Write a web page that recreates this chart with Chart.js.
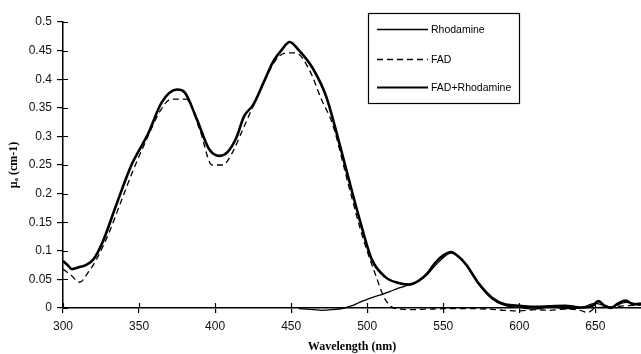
<!DOCTYPE html>
<html>
<head>
<meta charset="utf-8">
<script src="https://cdn.jsdelivr.net/npm/chart.js@4.4.1/dist/chart.umd.min.js"></script>
<style>
  html, body { margin: 0; padding: 0; background: #fff; }
  #wrap { position: relative; width: 641px; height: 354px; }
</style>
</head>
<body>
<div id="wrap"><canvas id="spectra"></canvas></div>
<script>
// absorption spectra: wavelength (nm) against mu_a (cm-1)
const xTicks = [300, 350, 400, 450, 500, 550, 600, 650];
const yTicks = [0, 0.05, 0.1, 0.15, 0.2, 0.25, 0.3, 0.35, 0.4, 0.45, 0.5];

// FAD + Rhodamine mixture
const mixWl = [300, 303, 306, 310, 315, 320, 326, 335, 345, 356, 365, 375, 380, 388, 396, 403, 408, 414, 419, 425,
  432, 438, 444, 449, 455, 464, 473, 480, 488, 495, 503, 512, 520, 527, 534, 540, 545, 550, 555, 560,
  565, 573, 582, 591, 600, 610, 620, 630, 640, 648, 652, 656, 660, 665, 670, 675, 680];
const mixVals = [0.082, 0.075, 0.068, 0.071, 0.075, 0.085, 0.115, 0.18, 0.25, 0.305, 0.36, 0.382, 0.377, 0.33, 0.278, 0.266, 0.272, 0.298, 0.335, 0.355,
  0.395, 0.43, 0.452, 0.465, 0.451, 0.42, 0.37, 0.305, 0.224, 0.155, 0.085, 0.054, 0.044, 0.041, 0.048, 0.062, 0.08, 0.092, 0.098, 0.09,
  0.076, 0.044, 0.018, 0.006, 0.004, 0.002, 0.003, 0.004, 0.001, 0.004, 0.012, 0.004, 0.0, 0.008, 0.013, 0.006, 0.008];

// FAD alone
const fadWl = [300, 305, 311, 316, 322, 330, 338, 346, 355, 364, 371, 381, 390, 398, 405, 411, 419, 429, 440, 447,
  453, 462, 470, 477, 488, 497, 506, 511, 516, 522, 528, 540, 560, 580, 590, 600, 610, 620, 630, 640,
  645, 650, 660, 670, 680];
const fadVals = [0.068, 0.058, 0.045, 0.06, 0.085, 0.13, 0.185, 0.24, 0.295, 0.345, 0.365, 0.365, 0.311, 0.25, 0.25, 0.27, 0.317, 0.376, 0.434, 0.446,
  0.446, 0.416, 0.364, 0.323, 0.212, 0.124, 0.054, 0.019, 0.002, -0.002, -0.003, -0.002, -0.001, -0.002, -0.004, -0.005, -0.003, -0.004, -0.002, -0.004,
  -0.008, 0.0, 0.002, 0.004, 0.005];

// Rhodamine alone
const rhodWl = [455, 465, 470, 477, 485, 490, 495, 500, 505, 510, 515, 521, 527, 532, 538, 545, 550, 555, 560, 565,
  573, 582, 591, 600, 610, 620, 630, 640, 650, 660, 670, 680];
const rhodVals = [-0.001, -0.003, -0.004, -0.003, 0.0, 0.004, 0.01, 0.015, 0.02, 0.024, 0.029, 0.035, 0.04, 0.045, 0.055, 0.075, 0.088, 0.096, 0.09, 0.075,
  0.043, 0.016, 0.004, 0.001, -0.002, 0.002, -0.001, 0.0, 0.008, 0.002, 0.01, 0.006];

const legendLabels = ['Rhodamine', 'FAD', 'FAD+Rhodamine'];

function pairs(xs, ys) {
  return xs.map((x, i) => ({ x: x, y: ys[i] }));
}

// ticks that cross the axis lines (Chart.js only draws the outer half)
const innerTicks = {
  id: 'innerTicks',
  afterDraw(chart) {
    const { ctx, scales: { x, y } } = chart;
    ctx.save();
    ctx.strokeStyle = '#000';
    ctx.lineWidth = 1.2;
    ctx.beginPath();
    x.ticks.forEach(t => {
      const px = Math.round(x.getPixelForValue(t.value)) + 0.5;
      ctx.moveTo(px, x.top);
      ctx.lineTo(px, x.top - 5);
    });
    y.ticks.forEach(t => {
      const py = Math.round(y.getPixelForValue(t.value)) + 0.5;
      ctx.moveTo(y.right, py);
      ctx.lineTo(y.right + 5, py);
    });
    ctx.stroke();
    ctx.restore();
  }
};

// boxed legend in the upper right of the plot
const boxLegend = {
  id: 'boxLegend',
  afterDraw(chart) {
    const ctx = chart.ctx;
    const rows = [29, 59, 87];
    ctx.save();
    ctx.fillStyle = '#fff';
    ctx.fillRect(368, 13, 151, 90);
    ctx.strokeStyle = '#000';
    ctx.lineWidth = 1.2;
    ctx.strokeRect(368.5, 13.5, 151, 90);
    legendLabels.forEach((label, i) => {
      const ds = chart.data.datasets.find(d => d.label === label);
      ctx.beginPath();
      ctx.setLineDash(ds.borderDash || []);
      ctx.lineWidth = Math.min(ds.borderWidth, 2);
      ctx.moveTo(377, rows[i] + 0.5);
      ctx.lineTo(428, rows[i] + 0.5);
      ctx.stroke();
      ctx.setLineDash([]);
      ctx.fillStyle = '#000';
      ctx.font = '10.5px "Liberation Sans", Arial, sans-serif';
      ctx.textBaseline = 'middle';
      ctx.fillText(label, 431, rows[i] + 1);
    });
    ctx.restore();
  }
};

const ctx = document.getElementById('spectra').getContext('2d');
new Chart(ctx, {
  type: 'line',
  data: {
    datasets: [
      {
        label: 'FAD+Rhodamine',
        data: pairs(mixWl, mixVals),
        borderColor: '#000',
        borderWidth: 2.6,
        order: 0
      },
      {
        label: 'FAD',
        data: pairs(fadWl, fadVals),
        borderColor: '#000',
        borderWidth: 1.3,
        borderDash: [6, 4],
        order: 1
      },
      {
        label: 'Rhodamine',
        data: pairs(rhodWl, rhodVals),
        borderColor: '#000',
        borderWidth: 1.3,
        order: 2
      }
    ]
  },
  options: {
    responsive: true,
    maintainAspectRatio: false,
    animation: false,
    layout: { padding: { top: 22, right: 0, bottom: 0, left: 0 } },
    elements: {
      point: { radius: 0 },
      line: { cubicInterpolationMode: 'monotone', fill: false }
    },
    datasets: { line: { clip: 10 } },
    plugins: {
      legend: { display: false },
      tooltip: { enabled: false }
    },
    scales: {
      x: {
        type: 'linear',
        min: 300,
        max: 680,
        afterBuildTicks: s => { s.ticks = xTicks.map(v => ({ value: v })); },
        afterFit: s => { s.height = 46; },
        border: { display: true, color: '#000', width: 1.5 },
        grid: { drawOnChartArea: false, drawTicks: true, tickLength: 5, color: '#000', lineWidth: 1.2 },
        ticks: {
          color: '#111',
          padding: 6,
          font: { family: '"Liberation Sans", Arial, sans-serif', size: 12 }
        },
        title: {
          display: true,
          text: 'Wavelength (nm)',
          color: '#000',
          padding: { top: 0, bottom: 0 },
          font: { family: '"Liberation Serif", "Times New Roman", serif', size: 12, weight: 'bold' }
        }
      },
      y: {
        type: 'linear',
        min: 0,
        max: 0.5,
        afterBuildTicks: s => { s.ticks = yTicks.map(v => ({ value: v })); },
        afterFit: s => { s.width = 63; },
        border: { display: true, color: '#000', width: 1.5 },
        grid: { drawOnChartArea: false, drawTicks: true, tickLength: 6, color: '#000', lineWidth: 1.2 },
        ticks: {
          color: '#111',
          padding: 5,
          font: { family: '"Liberation Sans", Arial, sans-serif', size: 12 },
          callback: v => String(+v.toFixed(2))
        },
        title: {
          display: true,
          text: 'μₐ (cm-1)',
          color: '#000',
          padding: { top: 7, bottom: 0 },
          font: { family: '"Liberation Serif", "Times New Roman", serif', size: 12, weight: 'bold' }
        }
      }
    }
  },
  plugins: [innerTicks, boxLegend]
});
</script>
</body>
</html>
